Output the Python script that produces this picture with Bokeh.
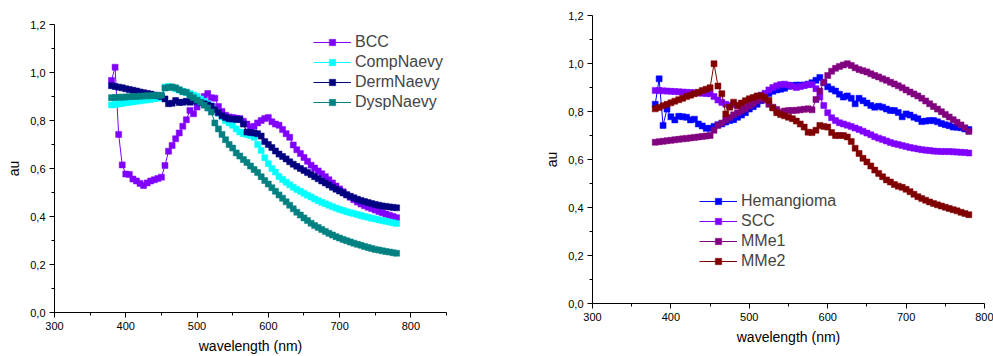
from bokeh.plotting import figure
from bokeh.layouts import row, column
from bokeh.models import Range1d, FixedTicker, CustomJSTickFormatter, Legend, LegendItem
from bokeh.embed import file_html
from bokeh.resources import INLINE

wavelength = list(range(380, 785, 5))

bcc = [0.967, 1.022, 0.742, 0.615, 0.577, 0.575, 0.556, 0.548, 0.538, 0.529,
       0.540, 0.548, 0.553, 0.558, 0.564, 0.612, 0.672, 0.696, 0.724, 0.748,
       0.776, 0.803, 0.842, 0.828, 0.856, 0.880, 0.900, 0.912, 0.895, 0.893,
       0.858, 0.838, 0.822, 0.815, 0.812, 0.810, 0.808, 0.797, 0.785, 0.772,
       0.776, 0.790, 0.800, 0.808, 0.813, 0.795, 0.785, 0.780, 0.762, 0.745,
       0.730, 0.698, 0.678, 0.662, 0.646, 0.630, 0.614, 0.602, 0.590, 0.578,
       0.566, 0.553, 0.540, 0.527, 0.515, 0.503, 0.490, 0.480, 0.470, 0.460,
       0.452, 0.445, 0.439, 0.433, 0.427, 0.421, 0.416, 0.410, 0.405, 0.400,
       0.395]
comp_naevy = [0.865, 0.867, 0.869, 0.871, 0.874, 0.876, 0.878, 0.880, 0.882, 0.884,
              0.886, 0.888, 0.891, 0.893, 0.895, 0.940, 0.942, 0.938, 0.932, 0.927,
              0.922, 0.917, 0.912, 0.906, 0.900, 0.890, 0.880, 0.870, 0.860, 0.845,
              0.830, 0.815, 0.800, 0.790, 0.780, 0.765, 0.752, 0.745, 0.742, 0.738,
              0.730, 0.700, 0.675, 0.645, 0.620, 0.600, 0.585, 0.567, 0.554, 0.543,
              0.532, 0.522, 0.513, 0.505, 0.497, 0.489, 0.481, 0.473, 0.466, 0.459,
              0.453, 0.447, 0.441, 0.435, 0.430, 0.425, 0.420, 0.416, 0.412, 0.408,
              0.404, 0.400, 0.397, 0.393, 0.390, 0.386, 0.383, 0.380, 0.377, 0.374,
              0.371]
derm_naevy = [0.945, 0.942, 0.939, 0.936, 0.932, 0.929, 0.926, 0.923, 0.919, 0.916,
              0.913, 0.910, 0.906, 0.903, 0.900, 0.890, 0.870, 0.872, 0.883, 0.875,
              0.876, 0.880, 0.876, 0.880, 0.882, 0.875, 0.870, 0.865, 0.860, 0.845,
              0.832, 0.820, 0.812, 0.807, 0.806, 0.804, 0.804, 0.785, 0.752, 0.750,
              0.748, 0.745, 0.735, 0.712, 0.700, 0.687, 0.673, 0.660, 0.650, 0.640,
              0.628, 0.618, 0.609, 0.600, 0.592, 0.583, 0.575, 0.566, 0.557, 0.548,
              0.540, 0.531, 0.522, 0.514, 0.506, 0.498, 0.491, 0.484, 0.478, 0.472,
              0.467, 0.462, 0.458, 0.454, 0.450, 0.447, 0.444, 0.442, 0.440, 0.438,
              0.436]
dysp_naevy = [0.895, 0.896, 0.897, 0.897, 0.898, 0.899, 0.900, 0.900, 0.901, 0.902,
              0.903, 0.903, 0.904, 0.905, 0.905, 0.935, 0.938, 0.940, 0.936, 0.928,
              0.920, 0.918, 0.905, 0.895, 0.885, 0.876, 0.864, 0.852, 0.835, 0.790,
              0.765, 0.742, 0.720, 0.700, 0.685, 0.665, 0.652, 0.637, 0.625, 0.610,
              0.596, 0.583, 0.566, 0.550, 0.535, 0.520, 0.505, 0.490, 0.476, 0.461,
              0.447, 0.432, 0.418, 0.406, 0.394, 0.383, 0.372, 0.362, 0.354, 0.346,
              0.338, 0.330, 0.323, 0.316, 0.310, 0.304, 0.299, 0.294, 0.289, 0.284,
              0.280, 0.275, 0.271, 0.267, 0.263, 0.260, 0.257, 0.254, 0.252, 0.249,
              0.247]

hemangioma = [0.830, 0.936, 0.742, 0.810, 0.778, 0.765, 0.780, 0.778, 0.776, 0.765,
              0.768, 0.748, 0.740, 0.730, 0.730, 0.738, 0.745, 0.748, 0.756, 0.762,
              0.766, 0.776, 0.785, 0.795, 0.810, 0.820, 0.830, 0.845, 0.858, 0.875,
              0.884, 0.890, 0.893, 0.897, 0.905, 0.908, 0.910, 0.910, 0.910, 0.914,
              0.920, 0.930, 0.942, 0.920, 0.903, 0.893, 0.885, 0.872, 0.860, 0.865,
              0.855, 0.832, 0.855, 0.845, 0.835, 0.825, 0.818, 0.822, 0.818, 0.810,
              0.804, 0.804, 0.796, 0.778, 0.790, 0.785, 0.776, 0.770, 0.758, 0.760,
              0.762, 0.762, 0.757, 0.750, 0.745, 0.741, 0.735, 0.734, 0.732, 0.727,
              0.725]
scc = [0.888, 0.887, 0.886, 0.885, 0.884, 0.883, 0.882, 0.881, 0.880, 0.879,
       0.878, 0.877, 0.876, 0.875, 0.874, 0.862, 0.848, 0.838, 0.830, 0.825,
       0.828, 0.826, 0.826, 0.832, 0.840, 0.850, 0.860, 0.868, 0.876, 0.890,
       0.900, 0.907, 0.912, 0.914, 0.910, 0.905, 0.900, 0.904, 0.908, 0.912,
       0.912, 0.895, 0.860, 0.825, 0.795, 0.774, 0.762, 0.753, 0.748, 0.743,
       0.737, 0.731, 0.725, 0.718, 0.710, 0.703, 0.695, 0.689, 0.683, 0.677,
       0.671, 0.666, 0.662, 0.658, 0.654, 0.650, 0.647, 0.644, 0.641, 0.639,
       0.637, 0.635, 0.634, 0.633, 0.633, 0.633, 0.632, 0.631, 0.630, 0.629,
       0.627]
mme1 = [0.672, 0.674, 0.676, 0.678, 0.680, 0.682, 0.684, 0.686, 0.688, 0.690,
        0.692, 0.694, 0.696, 0.698, 0.700, 0.722, 0.742, 0.752, 0.765, 0.775,
        0.786, 0.795, 0.803, 0.811, 0.823, 0.833, 0.845, 0.853, 0.848, 0.830,
        0.818, 0.808, 0.797, 0.802, 0.804, 0.804, 0.805, 0.807, 0.809, 0.811,
        0.807, 0.850, 0.885, 0.922, 0.950, 0.968, 0.980, 0.988, 0.994, 0.999,
        0.992, 0.982, 0.975, 0.970, 0.965, 0.957, 0.950, 0.944, 0.936, 0.930,
        0.922, 0.915, 0.907, 0.899, 0.890, 0.881, 0.873, 0.865, 0.855, 0.844,
        0.832, 0.821, 0.810, 0.799, 0.788, 0.777, 0.766, 0.755, 0.744, 0.732,
        0.717]
mme2 = [0.811, 0.817, 0.824, 0.830, 0.836, 0.843, 0.849, 0.855, 0.862, 0.868,
        0.874, 0.880, 0.887, 0.893, 0.899, 0.999, 0.906, 0.874, 0.790, 0.818,
        0.839, 0.825, 0.835, 0.845, 0.853, 0.858, 0.865, 0.866, 0.858, 0.846,
        0.815, 0.795, 0.787, 0.782, 0.776, 0.770, 0.760, 0.748, 0.735, 0.714,
        0.712, 0.722, 0.742, 0.738, 0.735, 0.712, 0.700, 0.700, 0.700, 0.694,
        0.675, 0.647, 0.625, 0.605, 0.590, 0.573, 0.556, 0.542, 0.528, 0.515,
        0.506, 0.496, 0.489, 0.484, 0.476, 0.466, 0.455, 0.445, 0.437, 0.430,
        0.423, 0.417, 0.411, 0.406, 0.401, 0.396, 0.391, 0.386, 0.380, 0.375,
        0.370]

left_names = ["BCC", "CompNaevy", "DermNaevy", "DyspNaevy"]
left_series = [bcc, comp_naevy, derm_naevy, dysp_naevy]
left_colors = ["#8000FF", "#00FFFF", "#000080", "#008080"]

right_names = ["Hemangioma", "SCC", "MMe1", "MMe2"]
right_series = [hemangioma, scc, mme1, mme2]
right_colors = ["#0000FF", "#8000FF", "#800080", "#800000"]

y_ticks = [0.0, 0.2, 0.4, 0.6, 0.8, 1.0, 1.2]
y_minor = [0.1, 0.3, 0.5, 0.7, 0.9, 1.1]
x_ticks = [300, 400, 500, 600, 700, 800]

FONT = "Liberation Sans"
fmt = CustomJSTickFormatter(code="return tick.toFixed(1).replace('.', ',');")


def make_fig(width, x_end, x_minor, names, series, colors, borders, legend_loc):
    bl, br, bt, bb = borders
    p = figure(width=width, height=356, output_backend="svg", toolbar_location=None,
               x_range=Range1d(300, x_end), y_range=Range1d(0, 1.2),
               min_border_left=bl, min_border_right=br, min_border_top=bt,
               min_border_bottom=bb)
    p.outline_line_color = None
    p.xgrid.visible = False
    p.ygrid.visible = False
    p.background_fill_color = "white"
    p.border_fill_color = "white"
    items = []
    for name, ys, c in zip(names, series, colors):
        ln = p.line(wavelength, ys, line_color=c, line_width=1)
        sq = p.scatter(wavelength, ys, marker="square", size=6, fill_color=c, line_color=c,
                       line_width=0.5)
        items.append(LegendItem(label=name, renderers=[ln, sq]))
    p.xaxis.ticker = FixedTicker(ticks=x_ticks, minor_ticks=x_minor)
    p.yaxis.ticker = FixedTicker(ticks=y_ticks, minor_ticks=y_minor)
    p.yaxis.formatter = fmt
    p.xaxis.axis_label = "wavelength (nm)"
    p.yaxis.axis_label = "au"
    for ax in (p.xaxis[0], p.yaxis[0]):
        ax.axis_line_color = "black"
        ax.major_tick_line_color = "black"
        ax.minor_tick_line_color = "black"
        ax.major_tick_in = 0
        ax.major_tick_out = 5
        ax.minor_tick_in = 0
        ax.minor_tick_out = 3
        ax.major_label_text_font = FONT
        ax.major_label_text_font_size = "11px"
        ax.major_label_text_color = "black"
        ax.axis_label_text_font = FONT
        ax.axis_label_text_font_size = "14px"
        ax.axis_label_text_font_style = "normal"
        ax.axis_label_text_color = "black"
        ax.major_label_standoff = 4
        ax.axis_label_standoff = 5
    legend = Legend(items=items, location=legend_loc, padding=0, margin=0, spacing=2,
                    glyph_width=38, glyph_height=16, label_height=16, label_standoff=4,
                    label_text_font=FONT, label_text_font_size="16px",
                    border_line_alpha=0, background_fill_alpha=0)
    p.add_layout(legend)
    return p


left = make_fig(520, 850, [350, 450, 550, 650, 750, 850], left_names, left_series, left_colors,
                (54, 74, 24, 44), (259, 201))
right = make_fig(473, 800, [350, 450, 550, 650, 750], right_names, right_series, right_colors,
                 (72, 9, 15, 53), (107, 33))

layout = row(column(left), column(right), spacing=0)
open("out.html", "w").write(file_html(layout, INLINE))
